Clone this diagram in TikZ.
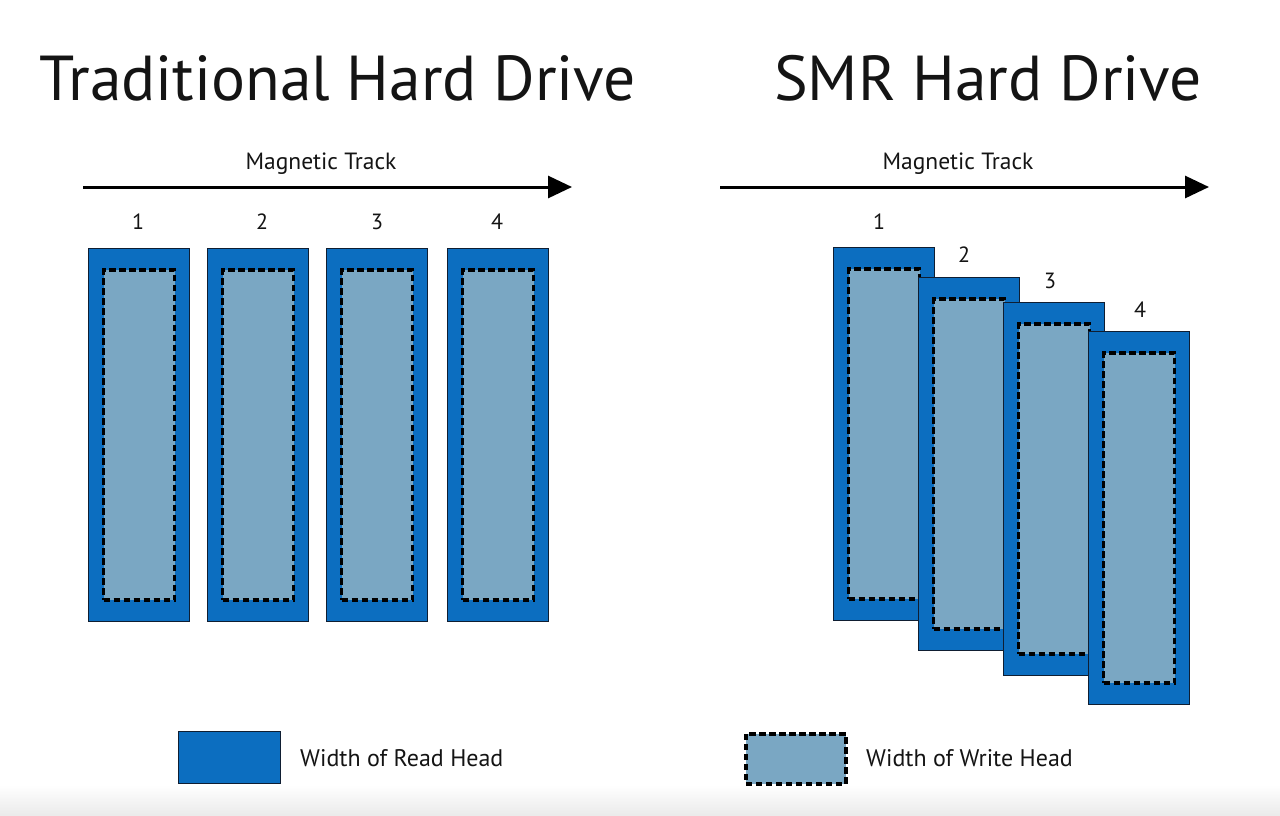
\documentclass[tikz,border=0pt]{standalone}
\usepackage{fontspec}
\setmainfont{PT Sans}
\usetikzlibrary{arrows.meta}
\definecolor{readblue}{RGB}{12,110,192}
\definecolor{writeblue}{RGB}{122,167,195}
\definecolor{edge}{RGB}{15,30,50}
\definecolor{txt}{RGB}{20,20,20}
\tikzset{
  readhead/.style={draw=edge, line width=1.3pt, fill=readblue, minimum width=101pt, minimum height=373pt, inner sep=0pt, anchor=north west},
  writehead/.style={draw=black, line width=3.6pt, dash pattern=on 6.5pt off 3.5pt, fill=writeblue, minimum width=71pt, minimum height=330pt, inner sep=0pt},
  title/.style={font=\fontsize{63.5}{63.5}\selectfont, text=txt, inner sep=0pt},
  track/.style={font=\fontsize{23.5}{23.5}\selectfont, text=txt, inner sep=0pt},
  num/.style={font=\fontsize{22}{22}\selectfont, text=txt, inner sep=0pt},
  legend/.style={font=\fontsize{24}{24}\selectfont, text=txt, inner sep=0pt, anchor=west},
  trackarrow/.style={line width=3pt, -{Triangle[length=24pt,width=22pt]}}
}
\begin{document}
\begin{tikzpicture}[x=1pt,y=-1pt]
\useasboundingbox (0,0) rectangle (1280,815);
\fill[white] (0,0) rectangle (1280,815);
\shade[top color=white, bottom color=black!8] (0,785) rectangle (1280,815);

% Titles
\node[title] (tTitle) at (338,78) {Traditional Hard Drive};
\node[title] (sTitle) at (988,78) {SMR Hard Drive};

% Traditional track
\coordinate (ta) at (83,187);
\coordinate (tb) at (572,187);
\draw[trackarrow] (ta) -- (tb);
\node[track] (tLab) at (321,164) {Magnetic Track};

\node[num] (tn1) at (138,222) {1};
\node[num] (tn2) at (262,222) {2};
\node[num] (tn3) at (377,222) {3};
\node[num] (tn4) at (497,222) {4};

\node[readhead] (t1) at (88,248) {};
\node[writehead] (t1w) at (t1.center) {};
\node[readhead] (t2) at (207,248) {};
\node[writehead] (t2w) at (t2.center) {};
\node[readhead] (t3) at (326,248) {};
\node[writehead] (t3w) at (t3.center) {};
\node[readhead] (t4) at (447,248) {};
\node[writehead] (t4w) at (t4.center) {};

% SMR track
\coordinate (sa) at (720,187);
\coordinate (sb) at (1209,187);
\draw[trackarrow] (sa) -- (sb);
\node[track] (sLab) at (958,164) {Magnetic Track};

\node[num] (sn1) at (879,222) {1};
\node[num] (sn2) at (964,255) {2};
\node[num] (sn3) at (1050,281) {3};
\node[num] (sn4) at (1140,310) {4};

\node[readhead] (s1) at (833,247) {};
\node[writehead] (s1w) at (s1.center) {};
\node[readhead] (s2) at (918,277) {};
\node[writehead] (s2w) at (s2.center) {};
\node[readhead] (s3) at (1003,302) {};
\node[writehead] (s3w) at (s3.center) {};
\node[readhead] (s4) at (1088,331) {};
\node[writehead] (s4w) at (s4.center) {};

% Legend
\node[readhead, minimum width=102pt, minimum height=52pt] (lr) at (178,731) {};
\node[legend] (lrt) at (300,758) {Width of Read Head};
\node[writehead, minimum width=100pt, minimum height=50pt, anchor=north west] (lw) at (744,732) {};
\node[legend] (lwt) at (866,758) {Width of Write Head};
\end{tikzpicture}
\end{document}
